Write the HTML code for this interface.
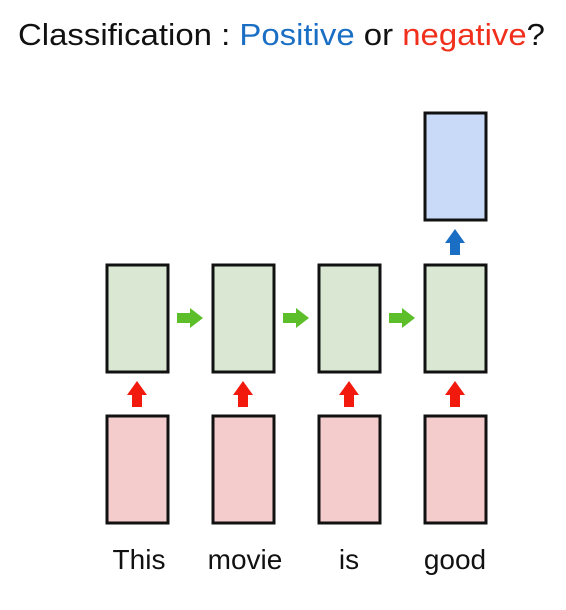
<!DOCTYPE html>
<html><head><style>html,body{margin:0;padding:0;background:#fff;}</style></head>
<body>
<svg width="566" height="605" viewBox="0 0 566 605" xmlns="http://www.w3.org/2000/svg" font-family="Liberation Sans, Arial, sans-serif">
<text x="18" y="45" font-size="31" textLength="527" lengthAdjust="spacingAndGlyphs" fill="#111">Classification : <tspan fill="#1a6fc4">Positive</tspan> or <tspan fill="#f0301c">negative</tspan>?</text>
<g stroke="#111" stroke-width="3">
<rect x="425" y="113" width="61" height="107" fill="#c9daf8"/>
<rect x="107" y="265" width="61" height="107" fill="#d9e7d3"/>
<rect x="213" y="265" width="61" height="107" fill="#d9e7d3"/>
<rect x="319" y="265" width="61" height="107" fill="#d9e7d3"/>
<rect x="425" y="265" width="61" height="107" fill="#d9e7d3"/>
<rect x="107" y="416" width="61" height="107" fill="#f4cccb"/>
<rect x="213" y="416" width="61" height="107" fill="#f4cccb"/>
<rect x="319" y="416" width="61" height="107" fill="#f4cccb"/>
<rect x="425" y="416" width="61" height="107" fill="#f4cccb"/>
</g>
<defs>
<polygon id="up" points="-5,13 5,13 5,1 10,1 0,-13 -10,1 -5,1"/>
<polygon id="rt" points="-13,-5 0,-5 0,-10 13,0 0,10 0,5 -13,5"/>
</defs>
<g fill="#f21a0c">
<use href="#up" x="137" y="394"/>
<use href="#up" x="243" y="394"/>
<use href="#up" x="349" y="394"/>
<use href="#up" x="455" y="394"/>
</g>
<use href="#up" x="455" y="242" fill="#1a6fc4"/>
<g fill="#5cbf2a">
<use href="#rt" x="190" y="318"/>
<use href="#rt" x="296" y="318"/>
<use href="#rt" x="402" y="318"/>
</g>
<g font-size="28" fill="#111" text-anchor="middle">
<text x="139" y="569">This</text>
<text x="245" y="569">movie</text>
<text x="349" y="569">is</text>
<text x="455" y="569">good</text>
</g>
</svg>
</body></html>
